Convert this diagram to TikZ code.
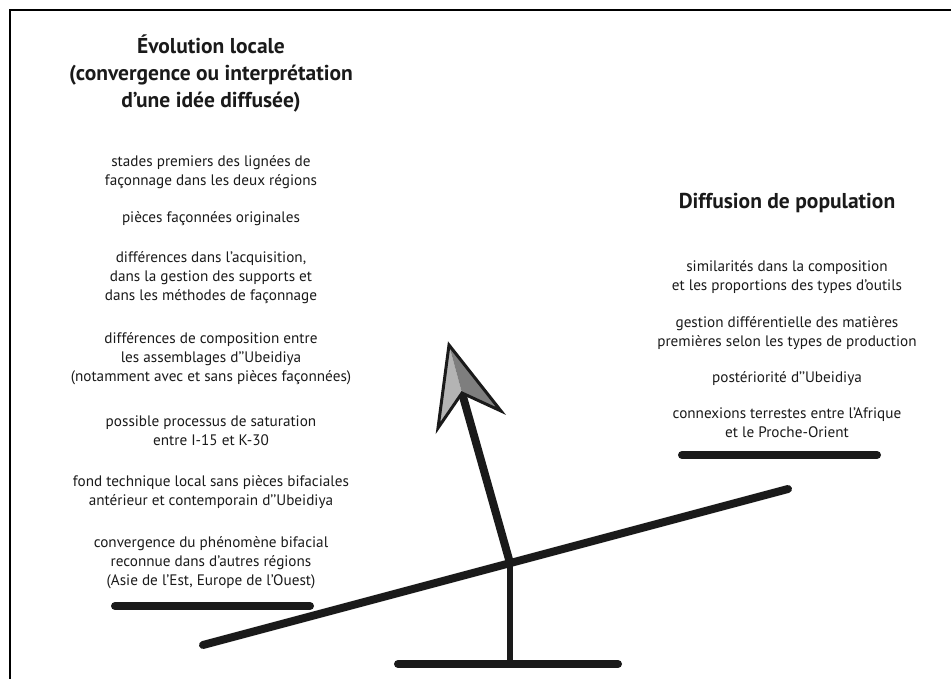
\documentclass[tikz,border=0pt]{standalone}
\usepackage{fontspec}
\setmainfont{PT Sans}
\definecolor{ink}{HTML}{1A1A1A}
\definecolor{lightg}{HTML}{B4B4B4}
\definecolor{darkg}{HTML}{7E7E7E}
\begin{document}
\begin{tikzpicture}[x=1pt,y=-1pt,
  body/.style={align=center,inner sep=0pt,text=ink,font=\fontsize{15.2}{19}\selectfont},
  ttl/.style={align=center,inner sep=0pt,text=ink,font=\fontsize{21.5}{27}\selectfont\bfseries},
  bar/.style={line width=8pt,line cap=round,draw=ink},
  frame/.style={line width=2pt,draw=black}]
\useasboundingbox (0,0) rectangle (951,679);
% frame (top and left edges only)
\coordinate (fa) at (10,679);
\coordinate (fb) at (10,10);
\coordinate (fc) at (951,10);
\draw[frame] (fa) -- (fb) -- (fc);
% left column
\node[ttl] (lt) at (211,74) {Évolution locale\\(convergence ou interprétation\\d’une idée diffusée)};
\node[body] (l1) at (211,172) {stades premiers des lignées de\\façonnage dans les deux régions};
\node[body] (l2) at (211,219) {pièces façonnées originales};
\node[body] (l3) at (211,278) {différences dans l’acquisition,\\dans la gestion des supports et\\dans les méthodes de façonnage};
\node[body] (l4) at (211,359) {différences de composition entre\\les assemblages d’’Ubeidiya\\(notamment avec et sans pièces façonnées)};
\node[body] (l5) at (211,430.5) {possible processus de saturation\\entre I-15 et K-30};
\node[body] (l6) at (211,492) {fond technique local sans pièces bifaciales\\antérieur et contemporain d’’Ubeidiya};
\node[body] (l7) at (211,563) {convergence du phénomène bifacial\\reconnue dans d’autres régions\\(Asie de l’Est, Europe de l’Ouest)};
% right column
\node[ttl] (rt) at (787,203) {Diffusion de population};
\node[body] (r1) at (787,277) {similarités dans la composition\\et les proportions des types d’outils};
\node[body] (r2) at (787,333.5) {gestion différentielle des matières\\premières selon les types de production};
\node[body] (r3) at (787,379) {postériorité d’’Ubeidiya};
\node[body] (r4) at (787,422.5) {connexions terrestes entre l’Afrique\\et le Proche-Orient};
% underline bars
\coordinate (la) at (115,606);
\coordinate (lb) at (310,606);
\coordinate (ra) at (682,455);
\coordinate (rb) at (877,455);
\draw[bar] (la) -- (lb);
\draw[bar] (ra) -- (rb);
% seesaw
\coordinate (be1) at (203,645);
\coordinate (be2) at (788,489);
\coordinate (piv) at (510,563);
\coordinate (pb) at (510,664);
\coordinate (ba1) at (398,664);
\coordinate (ba2) at (618,664);
\draw[bar] (be1) -- (be2);
\draw[line width=6pt,draw=ink] (piv) -- (pb);
\draw[bar] (ba1) -- (ba2);
% arrow
\coordinate (tip) at (449,345);
\coordinate (rbarb) at (501,411);
\coordinate (notch) at (462,393);
\coordinate (lbarb) at (438,428);
\draw[line width=8pt,draw=ink] (piv) -- (notch);
\fill[lightg] (tip) -- (notch) -- (lbarb) -- cycle;
\fill[darkg] (tip) -- (rbarb) -- (notch) -- cycle;
\draw[line width=3pt,draw=ink,line join=miter] (tip) -- (rbarb) -- (notch) -- (lbarb) -- cycle;
\end{tikzpicture}
\end{document}
